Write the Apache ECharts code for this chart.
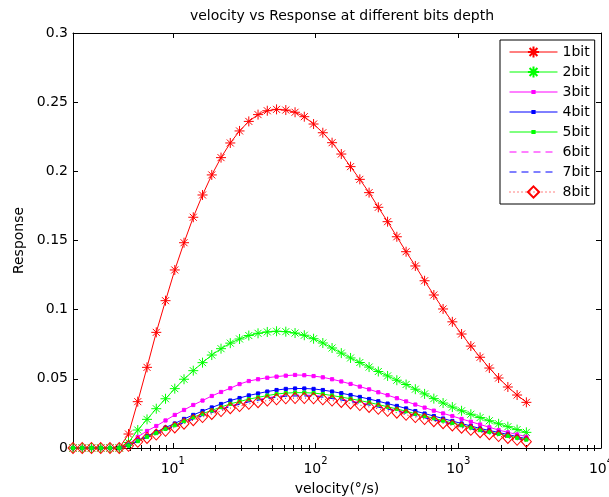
<!DOCTYPE html>
<html>
<head>
<meta charset="utf-8">
<script src="https://cdn.jsdelivr.net/npm/echarts@6/dist/echarts.min.js"></script>
<style>
html,body{margin:0;padding:0;background:#fff;}
#chart{width:609px;height:497px;}
</style>
</head>
<body>
<div id="chart"></div>
<script>
const velocity = [2.000, 2.322, 2.696, 3.130, 3.633, 4.218, 4.897, 5.685, 6.601, 7.663,
  8.896, 10.33, 11.99, 13.92, 16.16, 18.76, 21.78, 25.29, 29.36, 34.09,
  39.57, 45.94, 53.34, 61.92, 71.89, 83.46, 96.90, 112.5, 130.6, 151.6,
  176.0, 204.4, 237.3, 275.4, 319.8, 371.3, 431.0, 500.4, 580.9, 674.4,
  783.0, 909.0, 1055, 1225, 1422, 1651, 1917, 2226, 2584, 3000];

const bit1 = [0, 0, 0, 0, 0, 0, 0.0101, 0.0335, 0.0583, 0.0836,
  0.1065, 0.1287, 0.1484, 0.1668, 0.1829, 0.1974, 0.2099, 0.2205, 0.2292, 0.2361,
  0.2410, 0.2438, 0.2448, 0.2443, 0.2427, 0.2395, 0.2342, 0.2279, 0.2207, 0.2125,
  0.2034, 0.1942, 0.1846, 0.1740, 0.1636, 0.1527, 0.1419, 0.1316, 0.1209, 0.1106,
  0.1005, 0.0912, 0.0824, 0.0737, 0.0656, 0.0578, 0.0506, 0.0441, 0.0383, 0.0330];

const bit2 = [0, 0, 0, 0, 0, 0, 0.0040, 0.0130, 0.0207, 0.0284,
  0.0356, 0.0429, 0.0497, 0.0559, 0.0617, 0.0672, 0.0718, 0.0758, 0.0788, 0.0813,
  0.0829, 0.0839, 0.0844, 0.0841, 0.0831, 0.0815, 0.0790, 0.0759, 0.0723, 0.0686,
  0.0651, 0.0618, 0.0585, 0.0553, 0.0521, 0.0490, 0.0459, 0.0425, 0.0391, 0.0357,
  0.0325, 0.0296, 0.0269, 0.0244, 0.0220, 0.0197, 0.0175, 0.0154, 0.0133, 0.0113];

const bit3 = [0, 0, 0, 0, 0, 0, 0.0025, 0.0080, 0.0123, 0.0159,
  0.0199, 0.0239, 0.0275, 0.0311, 0.0343, 0.0376, 0.0405, 0.0432, 0.0462, 0.0484,
  0.0497, 0.0508, 0.0516, 0.0523, 0.0528, 0.0526, 0.0520, 0.0511, 0.0497, 0.0481,
  0.0463, 0.0444, 0.0424, 0.0403, 0.0382, 0.0360, 0.0337, 0.0314, 0.0292, 0.0270,
  0.0250, 0.0231, 0.0210, 0.0190, 0.0170, 0.0150, 0.0130, 0.0113, 0.0098, 0.0082];

const bit4 = [0, 0, 0, 0, 0, 0, 0.0020, 0.0054, 0.0087, 0.0116,
  0.0148, 0.0177, 0.0210, 0.0239, 0.0267, 0.0293, 0.0318, 0.0343, 0.0361, 0.0380,
  0.0394, 0.0408, 0.0419, 0.0427, 0.0430, 0.0430, 0.0427, 0.0419, 0.0408, 0.0396,
  0.0383, 0.0369, 0.0354, 0.0338, 0.0321, 0.0304, 0.0286, 0.0267, 0.0249, 0.0231,
  0.0213, 0.0195, 0.0177, 0.0159, 0.0141, 0.0127, 0.0112, 0.0098, 0.0082, 0.0067];

const bit5 = [0, 0, 0, 0, 0, 0, 0.0018, 0.0050, 0.0081, 0.0108,
  0.0138, 0.0165, 0.0195, 0.0222, 0.0248, 0.0272, 0.0296, 0.0319, 0.0336, 0.0353,
  0.0366, 0.0379, 0.0390, 0.0397, 0.0400, 0.0400, 0.0397, 0.0390, 0.0379, 0.0368,
  0.0356, 0.0343, 0.0329, 0.0314, 0.0298, 0.0282, 0.0266, 0.0248, 0.0232, 0.0215,
  0.0198, 0.0181, 0.0165, 0.0148, 0.0130, 0.0116, 0.0102, 0.0088, 0.0074, 0.0061];

const bit6 = [0, 0, 0, 0, 0, 0, 0.0017, 0.0048, 0.0077, 0.0103,
  0.0132, 0.0158, 0.0187, 0.0213, 0.0238, 0.0261, 0.0283, 0.0305, 0.0321, 0.0338,
  0.0351, 0.0363, 0.0373, 0.0380, 0.0383, 0.0383, 0.0380, 0.0373, 0.0363, 0.0352,
  0.0341, 0.0328, 0.0315, 0.0300, 0.0286, 0.0271, 0.0255, 0.0238, 0.0222, 0.0206,
  0.0190, 0.0174, 0.0158, 0.0142, 0.0125, 0.0111, 0.0097, 0.0084, 0.0070, 0.0057];

const bit7 = [0, 0, 0, 0, 0, 0, 0.0017, 0.0047, 0.0076, 0.0101,
  0.0130, 0.0155, 0.0184, 0.0209, 0.0234, 0.0256, 0.0278, 0.0300, 0.0316, 0.0333,
  0.0345, 0.0357, 0.0367, 0.0374, 0.0376, 0.0376, 0.0374, 0.0367, 0.0357, 0.0346,
  0.0335, 0.0323, 0.0310, 0.0295, 0.0281, 0.0266, 0.0250, 0.0234, 0.0218, 0.0202,
  0.0186, 0.0171, 0.0155, 0.0139, 0.0122, 0.0109, 0.0095, 0.0082, 0.0068, 0.0055];

const bit8 = [0, 0, 0, 0, 0, 0, 0.0016, 0.0045, 0.0073, 0.0097,
  0.0124, 0.0149, 0.0176, 0.0201, 0.0224, 0.0246, 0.0267, 0.0288, 0.0303, 0.0319,
  0.0331, 0.0343, 0.0352, 0.0359, 0.0361, 0.0361, 0.0359, 0.0352, 0.0343, 0.0333,
  0.0322, 0.0310, 0.0297, 0.0283, 0.0269, 0.0255, 0.0240, 0.0224, 0.0209, 0.0194,
  0.0179, 0.0163, 0.0147, 0.0131, 0.0114, 0.0100, 0.0086, 0.0073, 0.0059, 0.0046];

const seriesNames = ['1bit', '2bit', '3bit', '4bit', '5bit', '6bit', '7bit', '8bit'];
const majorTicks = [10, 100, 1000, 10000];
const minorTicks = [2, 3, 4, 5, 6, 7, 8, 9, 20, 30, 40, 50, 60, 70, 80, 90,
  200, 300, 400, 500, 600, 700, 800, 900, 2000, 3000, 4000, 5000, 6000, 7000, 8000, 9000];

const FONT = '"DejaVu Sans", "Liberation Sans", Arial, sans-serif';
const FS = 14;
const STAR = 'path://M5,0L5,10M0,5L10,5M1.5,1.5L8.5,8.5M1.5,8.5L8.5,1.5';
const DOT = 'path://M0,0M10,10M4,4L6,4L6,6L4,6Z';
const NOSYM = 'path://M0,0M10,10';

function pts(vals) { return velocity.map((v, i) => [v, vals[i]]); }

function mkSeries(name, vals, color, opt) {
  return Object.assign({
    name: name, type: 'line', data: pts(vals),
    xAxisIndex: 0, yAxisIndex: 0,
    showAllSymbol: true, animation: false, smooth: false,
    lineStyle: { color: color, width: 1 },
    itemStyle: { color: color, borderColor: color, borderWidth: 1 },
    emphasis: { disabled: true }
  }, opt);
}

const series = [
  mkSeries('1bit', bit1, '#ff0000', { symbol: STAR, symbolSize: 10 }),
  mkSeries('2bit', bit2, '#00ff00', { symbol: STAR, symbolSize: 10 }),
  mkSeries('3bit', bit3, '#ff00ff', { symbol: DOT, symbolSize: 16 }),
  mkSeries('4bit', bit4, '#0000ff', { symbol: DOT, symbolSize: 16 }),
  mkSeries('5bit', bit5, '#00ff00', { symbol: DOT, symbolSize: 16 }),
  mkSeries('6bit', bit6, '#ff00ff', { symbol: NOSYM, symbolSize: 2, lineStyle: { color: '#ff00ff', width: 1, type: [7, 5] } }),
  mkSeries('7bit', bit7, '#0000ff', { symbol: NOSYM, symbolSize: 2, lineStyle: { color: '#0000ff', width: 1, type: [7, 5] } }),
  mkSeries('8bit', bit8, '#ff0000', {
    symbol: 'diamond', symbolSize: [10, 11],
    lineStyle: { color: '#ff0000', width: 1, type: [1, 3] },
    itemStyle: { color: 'rgba(255,255,255,0)', borderColor: '#ff0000', borderWidth: 1 }
  })
];

const chart = echarts.init(document.getElementById('chart'), null, { renderer: 'canvas' });

const baseX = { type: 'log', logBase: 10, min: 2, max: 10000, splitLine: { show: false } };

chart.setOption({
  animation: false,
  backgroundColor: '#ffffff',
  textStyle: { fontFamily: FONT },
  title: {
    text: 'velocity vs Response at different bits depth',
    left: 337, top: 4, textAlign: 'center',
    textStyle: { fontSize: FS, fontWeight: 'normal', color: '#000', fontFamily: FONT }
  },
  grid: { left: 73, right: 8, top: 33, bottom: 49, containLabel: false, outerBoundsMode: 'none' },
  legend: {
    data: seriesNames,
    orient: 'vertical', left: 500, top: 40,
    itemWidth: 48, itemHeight: 14, itemGap: 6,
    padding: [5, 5, 5, 9],
    backgroundColor: '#ffffff', borderColor: '#000', borderWidth: 1,
    lineStyle: { width: 1 },
    textStyle: { fontSize: FS, color: '#000', fontFamily: FONT },
    selectedMode: false
  },
  xAxis: [
    Object.assign({}, baseX, {
      position: 'bottom',
      name: 'velocity(°/s)', nameLocation: 'middle', nameGap: 34,
      nameTextStyle: { fontSize: FS, color: '#000', fontFamily: FONT },
      axisLine: { show: true, onZero: false, lineStyle: { color: '#000', width: 1 } },
      axisTick: { show: true, inside: true, length: 5, customValues: majorTicks, lineStyle: { color: '#000' } },
      axisLabel: {
        show: true, margin: 8, customValues: majorTicks,
        formatter: function (v) { return '{b|10}{s|' + Math.round(Math.log10(v)) + '}'; },
        rich: {
          b: { fontSize: FS, color: '#000', fontFamily: FONT, verticalAlign: 'bottom', lineHeight: 20 },
          s: { fontSize: 10, color: '#000', fontFamily: FONT, verticalAlign: 'top', lineHeight: 10 }
        }
      }
    }),
    Object.assign({}, baseX, {
      position: 'top',
      axisLine: { show: true, onZero: false, lineStyle: { color: '#000', width: 1 } },
      axisTick: { show: true, inside: true, length: 5, customValues: majorTicks, lineStyle: { color: '#000' } },
      axisLabel: { show: false }
    }),
    Object.assign({}, baseX, {
      position: 'bottom',
      axisLine: { show: false },
      axisTick: { show: true, inside: true, length: 3, customValues: minorTicks, lineStyle: { color: '#000' } },
      axisLabel: { show: false }
    }),
    Object.assign({}, baseX, {
      position: 'top',
      axisLine: { show: false },
      axisTick: { show: true, inside: true, length: 3, customValues: minorTicks, lineStyle: { color: '#000' } },
      axisLabel: { show: false }
    })
  ],
  yAxis: [
    {
      type: 'value', min: 0, max: 0.3, interval: 0.05, position: 'left',
      name: 'Response', nameLocation: 'middle', nameGap: 41,
      nameTextStyle: { fontSize: FS, color: '#000', fontFamily: FONT },
      axisLine: { show: true, onZero: false, lineStyle: { color: '#000', width: 1 } },
      axisTick: { show: true, inside: true, length: 5, lineStyle: { color: '#000' } },
      axisLabel: { show: true, margin: 5, fontSize: FS, color: '#000', fontFamily: FONT },
      splitLine: { show: false }
    },
    {
      type: 'value', min: 0, max: 0.3, interval: 0.05, position: 'right',
      axisLine: { show: true, onZero: false, lineStyle: { color: '#000', width: 1 } },
      axisTick: { show: true, inside: true, length: 5, lineStyle: { color: '#000' } },
      axisLabel: { show: false },
      splitLine: { show: false }
    }
  ],
  series: series
});
</script>
</body>
</html>
